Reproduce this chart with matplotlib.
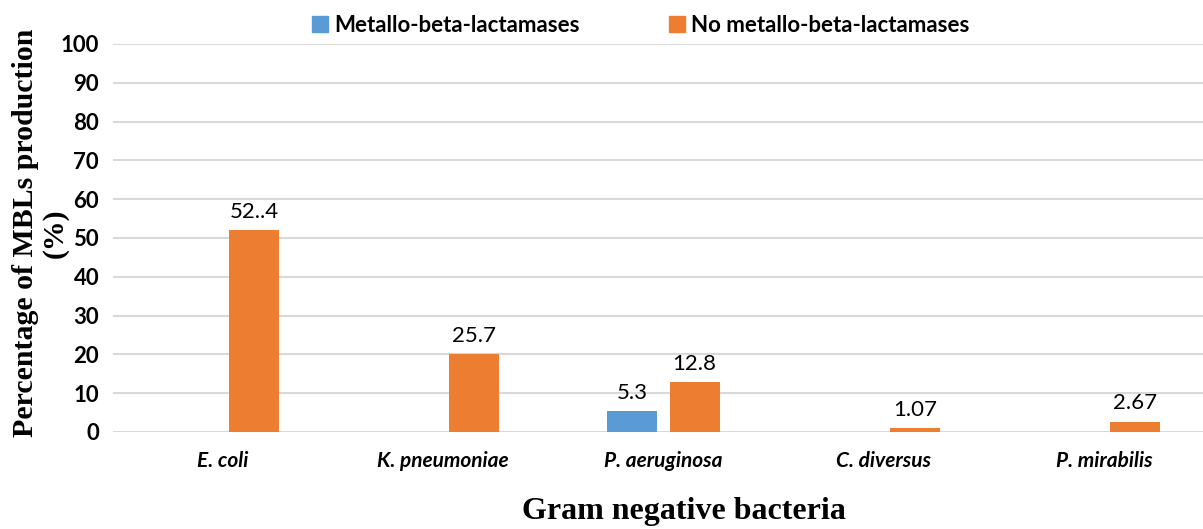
import matplotlib
matplotlib.use("Agg")
import matplotlib.pyplot as plt
from matplotlib.patches import Patch
import numpy as np

categories = ["E. coli", "K. pneumoniae", "P. aeruginosa", "C. diversus", "P. mirabilis"]
mbl_values = [0, 0, 5.3, 0, 0]
no_mbl_values = [52, 20, 12.8, 1.07, 2.67]
mbl_labels = ["", "", "5.3", "", ""]
no_mbl_labels = ["52..4", "25.7", "12.8", "1.07", "2.67"]
series_names = ["Metallo-beta-lactamases", "No metallo-beta-lactamases"]
yticks = [0, 10, 20, 30, 40, 50, 60, 70, 80, 90, 100]

blue = "#5B9BD5"
orange = "#ED7D31"
sans = ["Lato", "DejaVu Sans"]
serif = ["Liberation Serif", "DejaVu Serif"]

fig = plt.figure(figsize=(12.03, 5.29), dpi=100)
ax = fig.add_axes([113/1203, (529-432)/529, 1 - 113/1203, (432-44)/529])

x = np.arange(len(categories))
off = 0.141
w = 0.227
b1 = ax.bar(x - off, mbl_values, w, color=blue, zorder=3)
b2 = ax.bar(x + off, no_mbl_values, w, color=orange, zorder=3)

for bars, labels in ((b1, mbl_labels), (b2, no_mbl_labels)):
    for rect, lab in zip(bars, labels):
        if lab:
            ax.annotate(lab, (rect.get_x() + rect.get_width()/2, rect.get_height()),
                        xytext=(0, 6), textcoords="offset points", ha="center", va="bottom",
                        fontsize=16, family=sans)

ax.set_xlim(-0.5, 4.45)
ax.set_ylim(0, 100)
ax.set_yticks(yticks)
ax.set_yticklabels([str(v) for v in yticks], fontsize=16, fontweight="bold", family=sans)
ax.set_xticks(x)
ax.set_xticklabels(categories, fontsize=15, fontweight="bold", style="italic", family=sans)
ax.tick_params(axis="both", length=0)
ax.tick_params(axis="y", pad=10)
ax.tick_params(axis="x", pad=14)
ax.yaxis.grid(True, color="#d9d9d9", linewidth=1.5, zorder=0)
ax.set_axisbelow(True)
for s in ax.spines.values():
    s.set_visible(False)

fig.text(26/1203, 1 - 233/529, "Percentage of MBLs production", rotation=90,
         ha="center", va="center", fontsize=21.5, fontweight="bold", family=serif)
fig.text(55/1203, 1 - 233/529, "(%)", rotation=90,
         ha="center", va="center", fontsize=21.5, fontweight="bold", family=serif)
fig.text(684/1203, 1 - 512/529, "Gram negative bacteria", ha="center", va="center",
         fontsize=23, fontweight="bold", family=serif)

handles = [Patch(color=blue), Patch(color=orange)]
leg = fig.legend(handles, series_names, loc="center", bbox_to_anchor=(641/1203, 1 - 25/529),
                 ncol=2, frameon=False, handlelength=0.7, handleheight=0.7,
                 handletextpad=0.3, columnspacing=4.0,
                 prop={"family": sans, "weight": "bold", "size": 16})

fig.savefig("out.png", dpi=100)
